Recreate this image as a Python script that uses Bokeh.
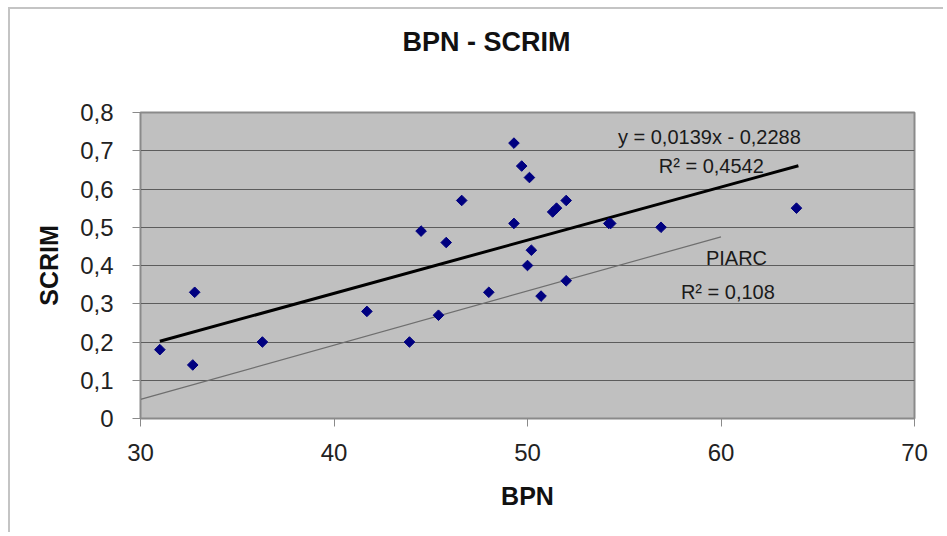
import numpy as np
from bokeh.plotting import figure
from bokeh.models import FixedTicker, Label, Title
from bokeh.embed import file_html
from bokeh.resources import INLINE

# ---- data ----
bpn = [31.0, 32.7, 32.8, 36.3, 41.7, 43.9, 44.5, 45.4, 45.8, 46.6, 48.0, 49.3, 49.3,
       49.7, 50.1, 50.2, 50.0, 50.7, 51.3, 51.5, 52.0, 52.0, 54.2, 54.3, 56.9, 63.9]
scrim = [0.18, 0.14, 0.33, 0.20, 0.28, 0.20, 0.49, 0.27, 0.46, 0.57, 0.33, 0.72, 0.51,
         0.66, 0.63, 0.44, 0.40, 0.32, 0.54, 0.55, 0.57, 0.36, 0.51, 0.51, 0.50, 0.55]

trend_slope = 0.0139
trend_intercept = -0.2288
trend_x = [31.0, 64.0]
trend_y = [trend_slope * x + trend_intercept for x in trend_x]

piarc_x = [30.0, 60.0]
piarc_y = [0.05, 0.475]

x_ticks = [30, 40, 50, 60, 70]
y_ticks = [0.0, 0.1, 0.2, 0.3, 0.4, 0.5, 0.6, 0.7, 0.8]
y_tick_labels = ["0", "0,1", "0,2", "0,3", "0,4", "0,5", "0,6", "0,7", "0,8"]

title_text = "BPN - SCRIM"
x_label = "BPN"
y_label = "SCRIM"
eq_text = "y = 0,0139x - 0,2288"
r2_text = "R\u00b2 = 0,4542"
piarc_text = "PIARC"
piarc_r2_text = "R\u00b2  = 0,108"

FONT = "Liberation Sans"

p = figure(width=935, height=525, x_range=(30, 70), y_range=(0, 0.8),
           output_backend="svg", toolbar_location=None,
           min_border_left=130, min_border_right=31, min_border_top=103, min_border_bottom=116,
           background_fill_color="#c0c0c0", border_fill_color="white")
p.styles = {"margin-left": "8px", "margin-top": "7px",
            "border-top": "2px solid #c4c4c4", "border-left": "2px solid #c4c4c4"}
p.title_location = None

# spacer panel between frame and title, then the title itself
p.add_layout(Title(text=" ", text_font=FONT, text_font_size="20px", standoff=32), "above")
p.add_layout(Title(text=title_text, align="left", offset=262, standoff=0,
                   text_font=FONT, text_font_size="27px", text_font_style="bold",
                   text_color="#111111"), "above")

p.outline_line_color = "#8a8a8a"
p.outline_line_width = 2

p.xgrid.grid_line_color = None
p.ygrid.grid_line_color = "#5c5c5c"
p.ygrid.grid_line_width = 1.2
p.ygrid.ticker = FixedTicker(ticks=y_ticks)

for ax in (p.xaxis[0], p.yaxis[0]):
    ax.axis_line_color = "#8a8a8a"
    ax.major_tick_line_color = "#8a8a8a"
    ax.minor_tick_line_color = None
    ax.major_tick_in = 0
    ax.major_tick_out = 8
    ax.major_label_text_font = FONT
    ax.major_label_text_font_size = "24px"
    ax.major_label_text_color = "#222222"
    ax.axis_label_text_font = FONT
    ax.axis_label_text_font_size = "25px"
    ax.axis_label_text_font_style = "bold"
    ax.axis_label_text_color = "#111111"

p.xaxis.ticker = FixedTicker(ticks=x_ticks)
p.yaxis.ticker = FixedTicker(ticks=y_ticks)
p.yaxis.major_label_overrides = {t: l for t, l in zip(y_ticks, y_tick_labels)}
p.xaxis.axis_label = x_label
p.yaxis.axis_label = y_label
p.xaxis.major_label_standoff = 17
p.yaxis.major_label_standoff = 19
p.xaxis.axis_label_standoff = 18
p.yaxis.axis_label_standoff = 14

p.line(piarc_x, piarc_y, line_color="#6e6e6e", line_width=1.2)
p.line(trend_x, trend_y, line_color="black", line_width=3)
p.scatter(bpn, scrim, marker="square", angle=np.pi / 4, size=7.5,
          fill_color="#000080", line_color="#000080")

for txt, x, y in [(eq_text, 59.4, 0.737), (r2_text, 59.5, 0.661),
                  (piarc_text, 60.8, 0.42), (piarc_r2_text, 60.5, 0.33)]:
    p.add_layout(Label(x=x, y=y, text=txt, text_align="center", text_baseline="middle",
                       text_font=FONT, text_font_size="20px", text_color="#1a1a1a"))

open("out.html", "w").write(file_html(p, INLINE))
